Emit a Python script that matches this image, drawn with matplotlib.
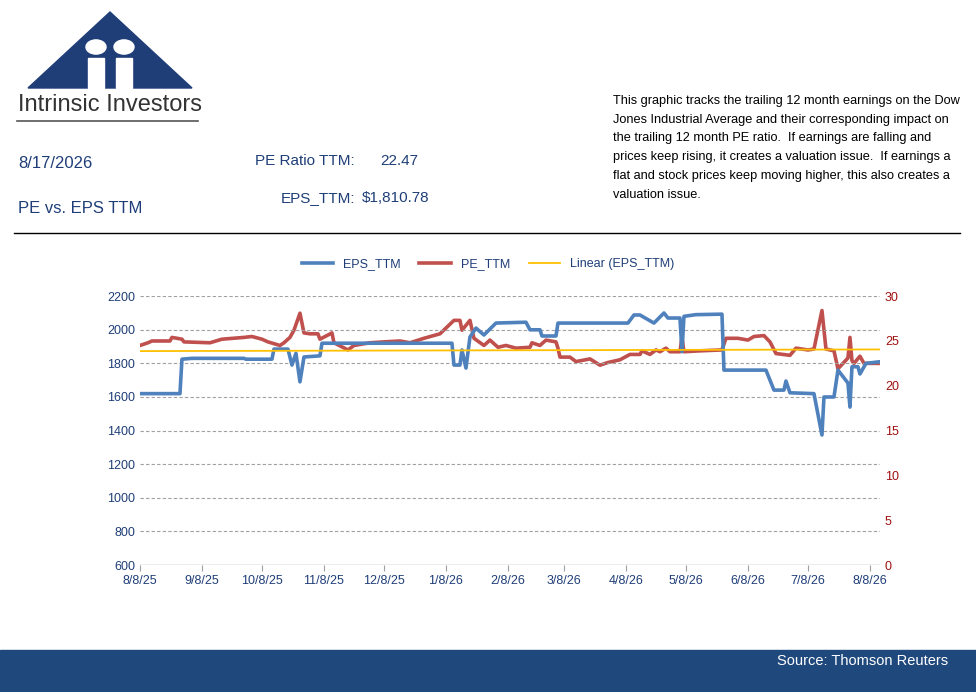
import matplotlib
matplotlib.use("Agg")
import matplotlib.pyplot as plt
import matplotlib.dates as mdates
from matplotlib.patches import Polygon, Circle, Rectangle
import numpy as np
import datetime as dt

plt.rcParams['font.family'] = ['Liberation Sans', 'DejaVu Sans']

start = dt.date(2025, 8, 8)
eps_days = [0,20,21,26,52,53,66,67,74,76,78,80,82,90,91,156,157,160,161,163,165,168,172,178,193,195,200,201,208,209,244,247,250,257,262,264,270,271,272,278,291,292,313,317,322,323,325,337,341,342,347,349,354,355,356,359,360,363,370]
eps_vals = [1620,1620,1825,1830,1830,1825,1825,1885,1885,1790,1860,1690,1838,1845,1920,1920,1790,1790,1880,1772,1957,2010,1969,2040,2045,2000,2000,1963,1963,2040,2040,2088,2088,2040,2100,2070,2070,1870,2080,2090,2093,1760,1760,1641,1641,1695,1625,1620,1374,1600,1600,1760,1683,1540,1780,1780,1737,1800,1810]
pe_days = [0,4,6,15,16,21,22,35,41,52,56,61,64,70,72,75,77,80,82,85,89,90,96,97,104,107,115,122,130,135,142,150,157,160,161,165,167,172,175,179,183,188,195,196,200,203,208,209,210,215,218,225,230,234,240,245,250,251,255,258,260,263,265,270,271,272,280,291,293,299,304,307,312,315,318,325,328,334,337,341,343,347,349,354,355,356,357,360,362,370]
pe_vals = [24.5,24.8,25.0,25.0,25.4,25.2,24.9,24.8,25.2,25.4,25.5,25.2,24.9,24.5,24.8,25.4,26.2,28.1,25.9,25.8,25.8,25.2,25.9,24.8,24.0,24.5,24.8,24.9,25.0,24.8,25.3,25.8,27.3,27.3,26.2,27.3,25.3,24.5,25.1,24.3,24.5,24.2,24.3,24.8,24.5,25.1,24.9,24.2,23.2,23.2,22.7,23.0,22.3,22.6,22.9,23.5,23.5,23.9,23.5,24.0,23.8,24.2,23.8,23.8,25.4,23.8,23.9,24.0,25.3,25.3,25.1,25.5,25.6,24.9,23.6,23.4,24.2,24.0,24.1,28.4,24.1,23.9,21.9,23.1,25.4,22.8,22.5,23.3,22.5,22.5]
tick_labels = ['8/8/25','9/8/25','10/8/25','11/8/25','12/8/25','1/8/26','2/8/26','3/8/26','4/8/26','5/8/26','6/8/26','7/8/26','8/8/26']

eps_dates = [start + dt.timedelta(days=d) for d in eps_days]
pe_dates = [start + dt.timedelta(days=d) for d in pe_days]
# linear trend of daily EPS
daily = np.arange(0, 371)
eps_daily = np.interp(daily, eps_days, eps_vals)
coef = np.polyfit(daily, eps_daily, 1)
trend_dates = [start, start + dt.timedelta(days=370)]
trend_vals = [coef[1], coef[1] + coef[0]*370]

fig = plt.figure(figsize=(9.76, 6.92), dpi=100)
ax = fig.add_axes([0.1434, 0.1835, 0.7582, 0.3885])
ax2 = ax.twinx()
navy = '#1F3E78'
ax.plot(eps_dates, eps_vals, color='#4F81BD', lw=2.6, label='EPS_TTM', zorder=3)
ax2.plot(pe_dates, pe_vals, color='#C0504D', lw=2.6, label='PE_TTM', zorder=3)
ax.plot(trend_dates, trend_vals, color='#FFC000', lw=1.3, label='Linear (EPS_TTM)', zorder=4)
ax.set_zorder(ax2.get_zorder()+1); ax.patch.set_visible(False)

ax.set_ylim(600, 2200); ax.set_yticks(range(600, 2201, 200))
ax2.set_ylim(0, 30); ax2.set_yticks(range(0, 31, 5))
ax.set_xlim(start, start + dt.timedelta(days=370))
ticks = [dt.date(2025 + (7 + i)//12, (7 + i) % 12 + 1, 8) for i in range(13)]
ax.set_xticks(ticks); ax.set_xticklabels(tick_labels)
for y in range(800, 2201, 200):
    ax.axhline(y, color='#A0A0A0', ls=(0, (3, 2)), lw=0.8, zorder=0)
for a in (ax, ax2):
    for s in ['top', 'right', 'left']:
        a.spines[s].set_visible(False)
    a.spines['bottom'].set_visible(False)
ax.axhline(600, color='#A0A0A0', lw=1, zorder=1)
ax.tick_params(axis='y', colors=navy, labelsize=9, length=0, labelcolor=navy)
ax.tick_params(axis='x', colors='#A0A0A0', labelsize=9, length=4, labelcolor=navy)
ax2.tick_params(axis='y', length=0, labelsize=9, labelcolor='#A01010')
for lab in ax.get_xticklabels() + ax.get_yticklabels():
    lab.set_fontweight('normal')

h1, l1 = ax.get_legend_handles_labels(); h2, l2 = ax2.get_legend_handles_labels()
hs = [h1[0], h2[0], h1[1]]; ls = [l1[0], l2[0], l1[1]]
fig.legend(hs, ls, loc='center', bbox_to_anchor=(0.5, 1 - 264/692), ncol=3, frameon=False,
           fontsize=9, labelcolor=navy, handlelength=2.5, columnspacing=1.5)

# header
logo = '#1F3E78'
fig.patches.append(Polygon([[28/976, 1-88/692], [110/976, 1-12/692], [192/976, 1-88/692]],
                           closed=True, transform=fig.transFigure, color=logo))
for cx in (96, 124):
    fig.patches.append(Circle((cx/976, 1-47/692), 10/976, transform=fig.transFigure, color='white'))
    fig.patches.append(Rectangle(((cx-8)/976, 1-88/692), 16/976, 30/692, transform=fig.transFigure, color='white'))
fig.patches.append(Circle((110/976, 1-55/692), 5/976, transform=fig.transFigure, color=logo))
fig.text(18/976, 1-105/692, 'Intrinsic Investors', fontsize=17, color='#333333', va='center', family=['Liberation Sans Narrow', 'Liberation Sans'])
fig.lines.append(plt.Line2D([17/976, 198/976], [1-121/692, 1-121/692], transform=fig.transFigure, color='#555555', lw=1.2))

fig.text(18/976, 1-163/692, '8/17/2026', fontsize=12, color=navy, va='center')
fig.text(18/976, 1-208/692, 'PE vs. EPS TTM', fontsize=12, color=navy, va='center')
fig.text(355/976, 1-161/692, 'PE Ratio TTM:', fontsize=11, color=navy, va='center', ha='right')
fig.text(380/976, 1-161/692, '22.47', fontsize=11, color=navy, va='center')
fig.text(355/976, 1-198/692, 'EPS_TTM:', fontsize=11, color=navy, va='center', ha='right')
fig.text(362/976, 1-198/692, '$1,810.78', fontsize=11, color=navy, va='center')
para = ("This graphic tracks the trailing 12 month earnings on the Dow\n"
        "Jones Industrial Average and their corresponding impact on\n"
        "the trailing 12 month PE ratio.  If earnings are falling and\n"
        "prices keep rising, it creates a valuation issue.  If earnings a\n"
        "flat and stock prices keep moving higher, this also creates a\n"
        "valuation issue.")
fig.text(613/976, 1-95/692, para, fontsize=9.2, color='black', va='top', linespacing=1.75)
fig.lines.append(plt.Line2D([14/976, 960/976], [1-233/692, 1-233/692], transform=fig.transFigure, color='black', lw=1))

fig.patches.append(Rectangle((0, 0), 1, 42/692, transform=fig.transFigure, color='#1F497D'))
fig.text(948/976, 1-661/692, 'Source: Thomson Reuters', fontsize=10.5, color='white', ha='right', va='center')

fig.savefig('out.png', dpi=100)
